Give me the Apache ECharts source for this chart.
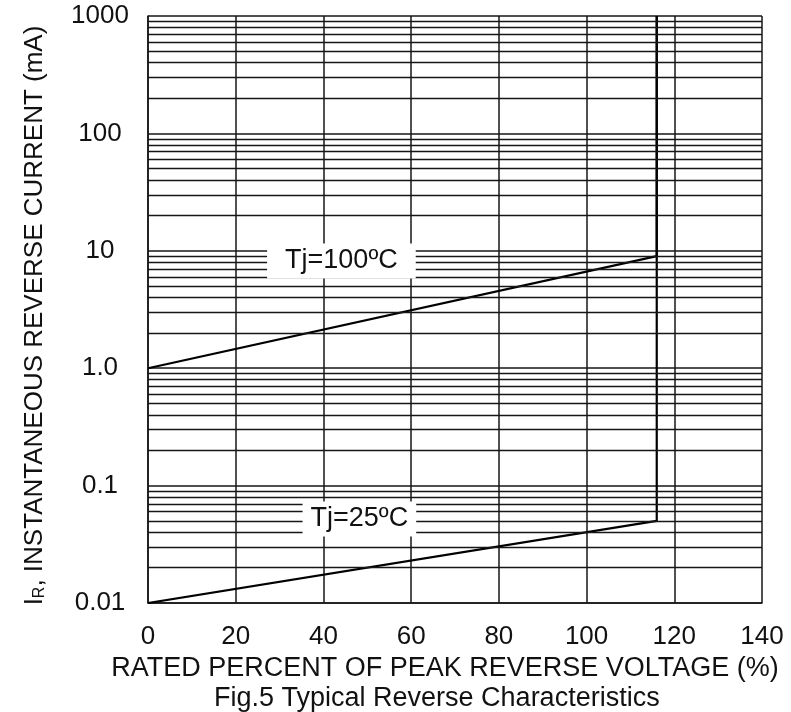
<!DOCTYPE html>
<html>
<head>
<meta charset="utf-8">
<script src="https://cdn.jsdelivr.net/npm/echarts@6/dist/echarts.min.js"></script>
<style>
html,body{margin:0;padding:0;background:#fff;}
#chart{width:791px;height:712px;}
</style>
</head>
<body>
<div id="chart"></div>
<script>
// ---- data ----
const xTickValues = [0, 20, 40, 60, 80, 100, 120, 140];
const yTickLabels = ['0.01', '0.1', '1.0', '10', '100', '1000'];
const decadeStarts = [0.01, 0.1, 1, 10, 100];
const minorMultipliers = [2, 3, 4, 5, 6, 7, 8, 9];

const tj100X = [0, 116, 116];
const tj100Y = [1.0, 9, 1000];
const tj25X = [0, 116, 116];
const tj25Y = [0.01, 0.05, 1000];

const labelTexts = ['Tj=100\u00BAC', 'Tj=25\u00BAC'];
const labelX = [44.1, 48.2];
const labelY = [8.2, 0.052];

const xTitle = 'RATED PERCENT OF PEAK REVERSE VOLTAGE (%)';
const caption = 'Fig.5 Typical Reverse Characteristics';

// ---- build ----
const FONT = '"Liberation Sans", Arial, sans-serif';
const INK = '#111';
const GRID = '#161616';

const minorLines = [];
decadeStarts.forEach(d => minorMultipliers.forEach(m => minorLines.push({ yAxis: +(d * m).toPrecision(3) })));

const zip = (xs, ys) => xs.map((x, i) => [x, ys[i]]);
const labelPads = [[4, 18, 4, 18], [4, 8, 4, 8]];

const chart = echarts.init(document.getElementById('chart'), null, { renderer: 'canvas' });
chart.setOption({
  animation: false,
  backgroundColor: '#fff',
  title: {
    text: caption,
    left: 214,
    top: 685,
    padding: 0,
    textStyle: { fontFamily: FONT, fontSize: 27, fontWeight: 'normal', color: INK }
  },
  grid: { left: 148, right: 29, top: 16, bottom: 109, containLabel: false },
  xAxis: {
    type: 'value',
    min: 0, max: 140, interval: 20,
    name: xTitle,
    nameLocation: 'middle',
    nameGap: 50,
    nameTextStyle: { fontFamily: FONT, fontSize: 27, color: INK, padding: [0, 20, 0, 0] },
    axisLine: { show: true, lineStyle: { color: GRID, width: 1.5 } },
    axisTick: { show: false },
    axisLabel: {
      fontFamily: FONT, fontSize: 26, color: INK, margin: 21,
      formatter: v => xTickValues.includes(v) ? String(v) : ''
    },
    splitLine: { show: true, lineStyle: { color: GRID, width: 1.5 } }
  },
  yAxis: {
    type: 'log',
    logBase: 10,
    min: 0.01, max: 1000,
    splitNumber: 5,
    name: '{a|I}{s|R}{a|, INSTANTANEOUS REVERSE CURRENT (mA)}',
    nameLocation: 'middle',
    nameGap: 100,
    nameTextStyle: {
      padding: [0, 12, 0, 0],
      rich: {
        a: { fontFamily: FONT, fontSize: 26, color: INK },
        s: { fontFamily: FONT, fontSize: 16, color: INK, verticalAlign: 'bottom', padding: [8, 0, 0, 0] }
      }
    },
    axisLine: { show: true, lineStyle: { color: GRID, width: 1.5 } },
    axisTick: { show: false },
    axisLabel: {
      fontFamily: FONT, fontSize: 26, color: INK, margin: 48, align: 'center',
      padding: [10, 0, 0, 0],
      formatter: v => {
        const i = Math.round(Math.log10(v)) + 2;
        return yTickLabels[i] !== undefined ? yTickLabels[i] : '';
      }
    },
    splitLine: { show: true, lineStyle: { color: GRID, width: 1.5 } }
  },
  series: [
    {
      name: 'minorGrid',
      type: 'line',
      data: [],
      silent: true,
      z: 1,
      markLine: {
        silent: true,
        symbol: ['none', 'none'],
        label: { show: false },
        lineStyle: { type: 'solid', color: GRID, width: 1.4 },
        emphasis: { disabled: true },
        data: minorLines
      }
    },
    {
      name: 'Tj=100',
      type: 'line',
      data: zip(tj100X, tj100Y),
      showSymbol: false,
      symbol: 'none',
      z: 3,
      lineStyle: { color: '#000', width: 2.2 }
    },
    {
      name: 'Tj=25',
      type: 'line',
      data: zip(tj25X, tj25Y),
      showSymbol: false,
      symbol: 'none',
      z: 3,
      lineStyle: { color: '#000', width: 2.2 }
    },
    {
      name: 'labels',
      type: 'scatter',
      z: 5,
      silent: true,
      symbolSize: 0,
      itemStyle: { opacity: 1 },
      data: labelTexts.map((t, i) => ({
        name: t,
        value: [labelX[i], labelY[i]],
        label: { padding: labelPads[i] }
      })),
      label: {
        show: true,
        position: 'inside',
        formatter: p => p.name,
        fontFamily: FONT,
        fontSize: 27,
        color: INK,
        opacity: 1,
        backgroundColor: '#ffffff'
      },
      emphasis: { disabled: true }
    }
  ]
});
</script>
</body>
</html>
